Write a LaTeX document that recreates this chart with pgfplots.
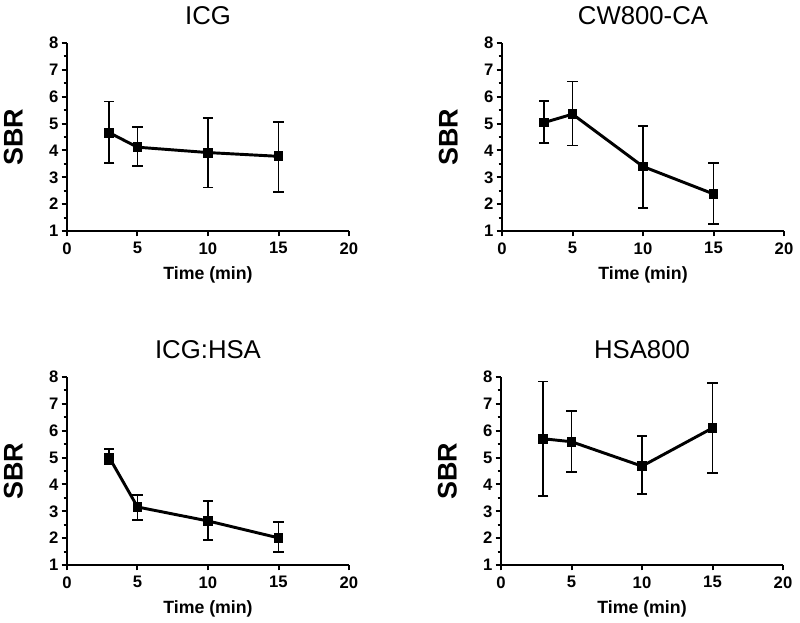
\documentclass[border=0pt]{standalone}
\usepackage{fontspec}
\setmainfont{Liberation Sans}
\usepackage{pgfplots}
\pgfplotsset{compat=1.18}
\usepackage{pgfplotstable}

\pgfplotstableread{
x y ep em
3 4.66 1.16 1.12
5 4.12 0.75 0.70
10 3.92 1.30 1.30
15 3.78 1.29 1.32
}\tabICG
\pgfplotstableread{
x y ep em
3 5.04 0.79 0.77
5 5.35 1.22 1.17
10 3.40 1.52 1.53
15 2.38 1.14 1.11
}\tabCW
\pgfplotstableread{
x y ep em
3 5.00 0.31 0.23
5 3.16 0.46 0.48
10 2.64 0.74 0.71
15 2.01 0.60 0.54
}\tabICGHSA
\pgfplotstableread{
x y ep em
3 5.70 2.13 2.14
5 5.59 1.14 1.13
10 4.68 1.11 1.05
15 6.10 1.67 1.68
}\tabHSA

\newcommand{\tlfont}{\fontsize{12.5}{14}\selectfont\bfseries}
\pgfplotsset{prism/.style={
  scale only axis, width=211.5pt, height=141pt,
  xmin=0, xmax=20, ymin=1, ymax=8,
  axis x line*=bottom, axis y line*=left,
  xtick={0,5,10,15,20}, ytick={1,2,...,8}, minor y tick num=1,
  tick align=outside,
  major tick length=4pt, minor tick length=2.5pt,
  axis line style={line width=1.9pt, black},
  every tick/.style={line width=1.5pt, black},
  /pgf/number format/assume math mode=true,
  xticklabel={\hbox{\tlfont\pgfmathprintnumber{\tick}}},
  yticklabel={\hbox{\tlfont\pgfmathprintnumber{\tick}}},
  xticklabel style={yshift=-1pt},
  yticklabel style={xshift=1pt},
  xlabel={Time (min)}, ylabel={SBR},
  xlabel style={font=\fontsize{13.3}{15}\selectfont\bfseries, at={(axis description cs:0.5,-0.235)}, anchor=center},
  ylabel style={font=\fontsize{20.2}{23}\selectfont\bfseries, at={(axis description cs:-0.19,0.5)}, anchor=center},
  title style={font=\fontsize{19.3}{22}\selectfont, at={(axis description cs:0.5,1.105)}, anchor=center},
  clip=false,
}}
\pgfplotsset{prismplot/.style={black, line width=2.2pt, mark=square*, mark size=2.6pt, mark options={solid},
  error bars/.cd, y dir=both, y explicit,
  error bar style={line width=1.35pt},
  error mark options={rotate=90, mark size=3.8pt, line width=1.35pt}}}

\begin{document}
\begin{tikzpicture}
\useasboundingbox (0,0) rectangle (600pt,467.25pt);
\begin{axis}[prism, at={(50.25pt,294pt)}, anchor=south west, title={ICG}]
\addplot[prismplot] table[x=x, y=y, y error plus=ep, y error minus=em] {\tabICG};
\end{axis}
\begin{axis}[prism, at={(376.5pt,294pt)}, anchor=south west, title={CW800-CA}]
\addplot[prismplot] table[x=x, y=y, y error plus=ep, y error minus=em] {\tabCW};
\end{axis}
\begin{axis}[prism, at={(50.25pt,43.5pt)}, anchor=south west, title={ICG:HSA}]
\addplot[prismplot] table[x=x, y=y, y error plus=ep, y error minus=em] {\tabICGHSA};
\end{axis}
\begin{axis}[prism, at={(375.75pt,43.5pt)}, anchor=south west, title={HSA800}]
\addplot[prismplot] table[x=x, y=y, y error plus=ep, y error minus=em] {\tabHSA};
\end{axis}
\end{tikzpicture}
\end{document}
